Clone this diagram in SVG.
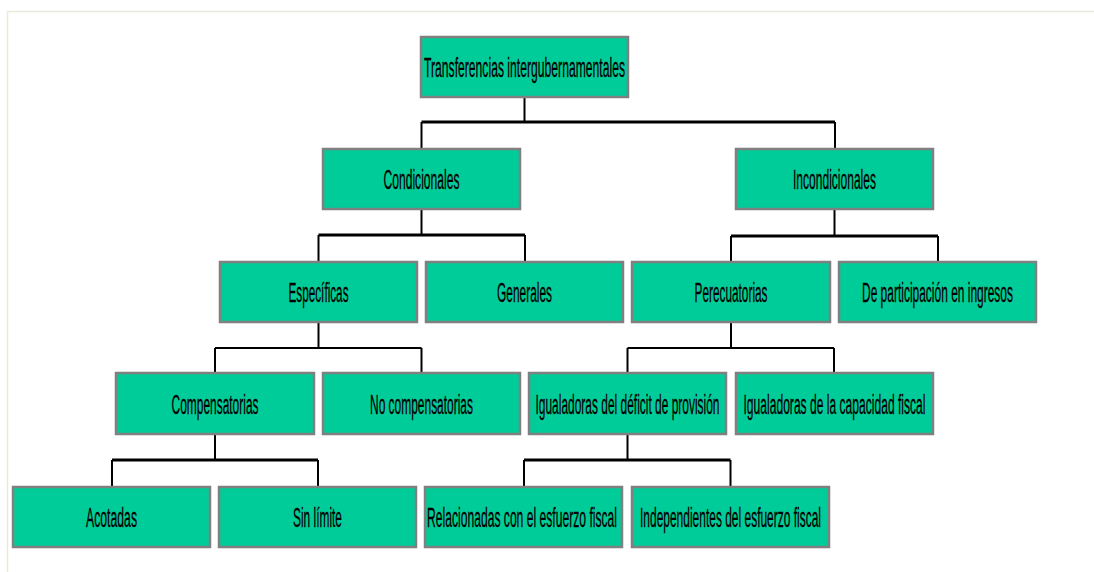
<svg xmlns="http://www.w3.org/2000/svg" width="1094" height="572" viewBox="0 0 1094 572">
<style>
.box{fill:#00CC99;stroke:#808080;stroke-width:2.5}
.t{font-family:"Liberation Sans",Arial,sans-serif;font-size:28px;fill:#000;stroke:#000;stroke-width:0.3;text-anchor:middle}
.c{fill:none;stroke:#000;stroke-width:2}
.ct{fill:none;stroke:#000;stroke-width:3}
</style>
<rect width="1094" height="572" fill="#fff"/>
<path d="M7.5 572V11.5H1094" fill="none" stroke="#ECE9DC" stroke-width="1.5"/>
<g id="connectors">
<path class="c" d="M524.5 98V122M421.5 122V149M835 122V149"/>
<path class="ct" d="M421.5 122H835"/>
<path class="c" d="M421.5 209V235M318.5 235V262M525 235V262"/>
<path class="ct" d="M318.5 235H525"/>
<path class="c" d="M834.5 209V236M731 236V262M938 236V262"/>
<path class="ct" d="M731 236H938"/>
<path class="c" d="M318.5 322V348M215 348V373M421.5 348V373M215 348H421.5"/>
<path class="c" d="M731 322V348M627.5 348V373M834 348V373M627.5 348H834"/>
<path class="c" d="M215 434V460M112 460V487M318 460V487"/>
<path class="ct" d="M112 460H318"/>
<path class="c" d="M627.5 434V460M524 460V487M730.5 460V487"/>
<path class="ct" d="M524 460H730.5"/>
</g>
<g id="n-root"><rect class="box" x="421" y="37" width="207" height="60"/><text class="t" transform="translate(524.5 77) scale(0.5 1)" textLength="402" lengthAdjust="spacingAndGlyphs">Transferencias intergubernamentales</text></g>
<g id="n-cond"><rect class="box" x="323" y="149" width="197" height="60"/><text class="t" transform="translate(421.5 189) scale(0.5 1)" textLength="152" lengthAdjust="spacingAndGlyphs">Condicionales</text></g>
<g id="n-incond"><rect class="box" x="736" y="149" width="197" height="60"/><text class="t" transform="translate(834.5 189) scale(0.5 1)" textLength="166" lengthAdjust="spacingAndGlyphs">Incondicionales</text></g>
<g id="n-espec"><rect class="box" x="220" y="262" width="197" height="60"/><text class="t" transform="translate(318.5 302) scale(0.5 1)" textLength="120" lengthAdjust="spacingAndGlyphs">Específicas</text></g>
<g id="n-gen"><rect class="box" x="426" y="262" width="197" height="60"/><text class="t" transform="translate(524.5 302) scale(0.5 1)" textLength="110" lengthAdjust="spacingAndGlyphs">Generales</text></g>
<g id="n-perec"><rect class="box" x="632" y="262" width="198" height="60"/><text class="t" transform="translate(731 302) scale(0.5 1)" textLength="146" lengthAdjust="spacingAndGlyphs">Perecuatorias</text></g>
<g id="n-part"><rect class="box" x="839" y="262" width="197" height="60"/><text class="t" transform="translate(937.5 302) scale(0.5 1)" textLength="302" lengthAdjust="spacingAndGlyphs">De participación en ingresos</text></g>
<g id="n-comp"><rect class="box" x="116" y="373" width="198" height="61"/><text class="t" transform="translate(215 414) scale(0.5 1)" textLength="174" lengthAdjust="spacingAndGlyphs">Compensatorias</text></g>
<g id="n-nocomp"><rect class="box" x="323" y="373" width="197" height="61"/><text class="t" transform="translate(421.5 414) scale(0.5 1)" textLength="206" lengthAdjust="spacingAndGlyphs">No compensatorias</text></g>
<g id="n-igdef"><rect class="box" x="529" y="373" width="197" height="61"/><text class="t" transform="translate(627.5 414) scale(0.5 1)" textLength="368" lengthAdjust="spacingAndGlyphs">Igualadoras del déficit de provisión</text></g>
<g id="n-igcap"><rect class="box" x="736" y="373" width="197" height="61"/><text class="t" transform="translate(834.5 414) scale(0.5 1)" textLength="364" lengthAdjust="spacingAndGlyphs">Igualadoras de la capacidad fiscal</text></g>
<g id="n-acot"><rect class="box" x="13" y="487" width="197" height="60"/><text class="t" transform="translate(111.5 527) scale(0.5 1)" textLength="102" lengthAdjust="spacingAndGlyphs">Acotadas</text></g>
<g id="n-sinlim"><rect class="box" x="219" y="487" width="197" height="60"/><text class="t" transform="translate(317.5 527) scale(0.5 1)" textLength="98" lengthAdjust="spacingAndGlyphs">Sin límite</text></g>
<g id="n-rel"><rect class="box" x="425" y="487" width="197" height="60"/><text class="t" transform="translate(522 527) scale(0.5 1)" textLength="380" lengthAdjust="spacingAndGlyphs">Relacionadas con el esfuerzo fiscal</text></g>
<g id="n-indep"><rect class="box" x="632" y="487" width="197" height="60"/><text class="t" transform="translate(730.5 527) scale(0.5 1)" textLength="362" lengthAdjust="spacingAndGlyphs">Independientes del esfuerzo fiscal</text></g>
</svg>
